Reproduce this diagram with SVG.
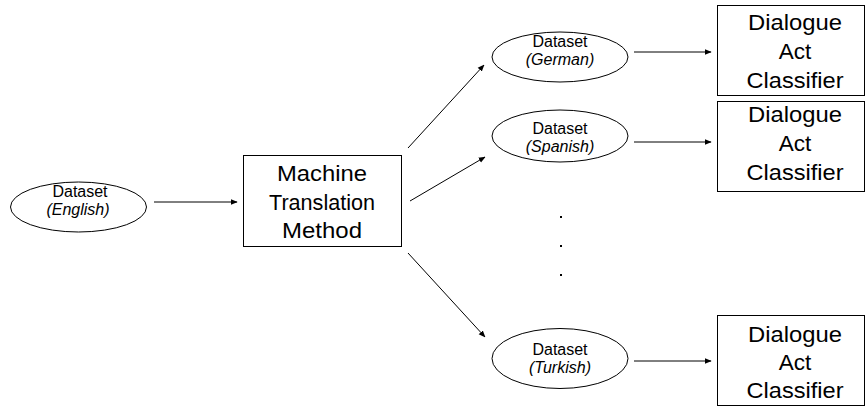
<svg xmlns="http://www.w3.org/2000/svg" width="866" height="407" viewBox="0 0 866 407">
  <style>
    .shape { fill: #ffffff; stroke: #000000; stroke-width: 1; }
    .big { font-family: "Liberation Sans", Arial, sans-serif; font-size: 22.5px; fill: #000000; text-anchor: middle; }
    .small { font-family: "Liberation Sans", Arial, sans-serif; font-size: 16px; fill: #000000; text-anchor: middle; }
    .it { font-style: italic; }
    .edge { fill: none; stroke: #000000; stroke-width: 1; marker-end: url(#arrow); }
    .dot { fill: #000000; }
  </style>
  <defs>
    <marker id="arrow" viewBox="0 0 10 10" refX="9" refY="5" markerWidth="7" markerHeight="7" markerUnits="userSpaceOnUse" orient="auto">
      <path d="M0,1 L10,5 L0,9 Z" fill="#000000"/>
    </marker>
  </defs>
  <rect width="866" height="407" fill="#ffffff"/>

  <g id="dataset-english">
    <ellipse class="shape" cx="78.5" cy="207" rx="68" ry="25"/>
    <text class="small" x="80" y="197">Dataset</text>
    <text class="small it" x="78" y="215">(English)</text>
  </g>

  <g id="mt-method">
    <rect class="shape" x="243.5" y="155.5" width="158" height="91"/>
    <text class="big" x="322" y="181" textLength="90" lengthAdjust="spacingAndGlyphs">Machine</text>
    <text class="big" x="322" y="209.5" textLength="106" lengthAdjust="spacingAndGlyphs">Translation</text>
    <text class="big" x="322" y="238" textLength="80" lengthAdjust="spacingAndGlyphs">Method</text>
  </g>

  <g id="dataset-german">
    <ellipse class="shape" cx="560" cy="57" rx="68" ry="25"/>
    <text class="small" x="560" y="47">Dataset</text>
    <text class="small it" x="560" y="65">(German)</text>
  </g>

  <g id="dataset-spanish">
    <ellipse class="shape" cx="560" cy="136" rx="68" ry="26"/>
    <text class="small" x="560" y="134">Dataset</text>
    <text class="small it" x="560" y="152">(Spanish)</text>
  </g>

  <g id="dataset-turkish">
    <ellipse class="shape" cx="560" cy="358.5" rx="68" ry="30"/>
    <text class="small" x="560" y="355">Dataset</text>
    <text class="small it" x="560" y="373">(Turkish)</text>
  </g>

  <g id="classifier-german">
    <rect class="shape" x="717.5" y="5.5" width="147" height="90"/>
    <text class="big" x="795" y="30" textLength="94" lengthAdjust="spacingAndGlyphs">Dialogue</text>
    <text class="big" x="795" y="59">Act</text>
    <text class="big" x="795" y="88" textLength="97" lengthAdjust="spacingAndGlyphs">Classifier</text>
  </g>

  <g id="classifier-spanish">
    <rect class="shape" x="717.5" y="101.5" width="147" height="90"/>
    <text class="big" x="795" y="122" textLength="94" lengthAdjust="spacingAndGlyphs">Dialogue</text>
    <text class="big" x="795" y="151">Act</text>
    <text class="big" x="795" y="180" textLength="97" lengthAdjust="spacingAndGlyphs">Classifier</text>
  </g>

  <g id="classifier-turkish">
    <rect class="shape" x="717.5" y="315.5" width="147" height="90"/>
    <text class="big" x="795" y="342" textLength="94" lengthAdjust="spacingAndGlyphs">Dialogue</text>
    <text class="big" x="795" y="370">Act</text>
    <text class="big" x="795" y="398" textLength="97" lengthAdjust="spacingAndGlyphs">Classifier</text>
  </g>

  <g id="ellipsis">
    <rect class="dot" x="560" y="216" width="2" height="2"/>
    <rect class="dot" x="560" y="245" width="2" height="2"/>
    <rect class="dot" x="560" y="274" width="2" height="2"/>
  </g>

  <g id="connectors">
    <line class="edge" x1="154" y1="202" x2="237" y2="202"/>
    <line class="edge" x1="408" y1="148" x2="484" y2="65"/>
    <line class="edge" x1="410" y1="201" x2="485" y2="157"/>
    <line class="edge" x1="408" y1="253" x2="485" y2="337"/>
    <line class="edge" x1="634" y1="52" x2="711" y2="52"/>
    <line class="edge" x1="634" y1="142" x2="711" y2="142"/>
    <line class="edge" x1="634" y1="361" x2="711" y2="361"/>
  </g>
</svg>
